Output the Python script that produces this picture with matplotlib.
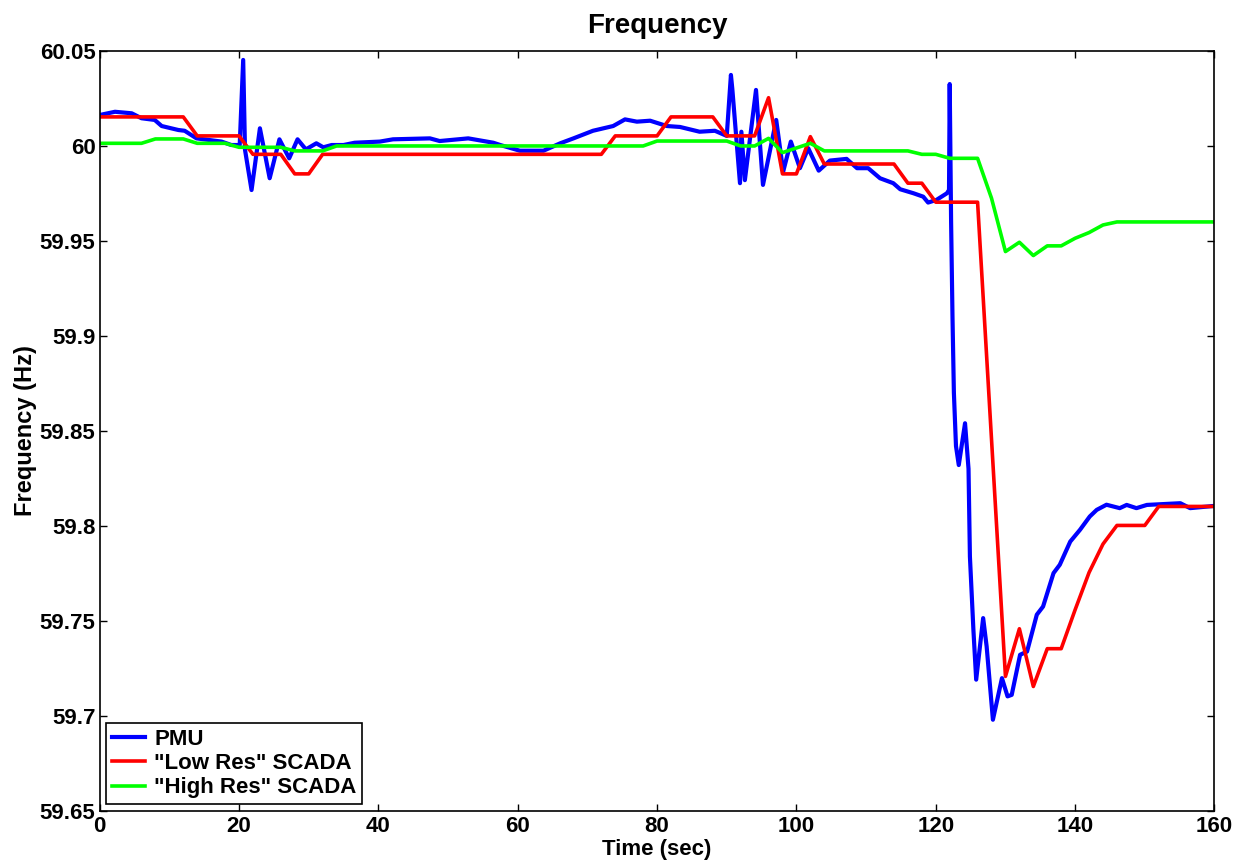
import matplotlib.pyplot as plt
from matplotlib.ticker import MultipleLocator, FuncFormatter

plt.rcParams['font.family'] = ['Liberation Sans', 'DejaVu Sans']
plt.rcParams['font.weight'] = 'bold'

# PMU (high-rate) frequency
pmu_t = [0, 2.2, 4.6, 6.0, 7.9, 8.9, 11.3, 12.2, 13.9, 15.6, 17.5, 18.9, 20.1,
         20.6, 20.86, 21.8, 23.0, 24.4, 25.8, 27.2, 28.4, 29.6, 31.1, 32.1, 33.3,
         35.0, 36.6, 40.2, 42.1, 47.4, 48.8, 52.9, 56.5, 57.5, 60.3, 63.7, 66.1,
         68.0, 70.8, 73.7, 75.4, 77.1, 79.0, 81.4, 83.3, 86.1, 88.3, 90.0,
         90.6, 90.8, 91.9, 92.1, 92.6, 94.2, 95.2, 97.1, 98.1, 99.2, 100.5,
         101.7, 103.2, 104.8, 107.2, 108.7, 110.3, 112.0, 113.9, 114.9, 116.8,
         118.2, 118.9, 120.1, 121.6, 121.9, 122.0, 122.2, 122.4, 122.6, 122.9,
         123.3, 124.2, 124.7, 124.9, 125.4, 125.8, 126.8, 127.3, 128.2, 129.5,
         130.3, 130.9, 132.1, 133.1, 134.5, 135.4, 136.9, 137.8, 139.3, 140.7,
         142.1, 143.1, 144.5, 146.4, 147.4, 148.8, 150.3, 155.1, 156.5, 160]
pmu_f = [60.0163, 60.0180, 60.0172, 60.0146, 60.0137, 60.0105, 60.0084, 60.0080,
         60.0040, 60.0032, 60.0023, 60.0005, 60.0005,
         60.0453, 59.9980, 59.9768, 60.0093, 59.9830, 60.0035, 59.9935, 60.0035,
         59.9982, 60.0014, 59.9993, 60.0005,
         60.0005, 60.0017, 60.0023, 60.0035, 60.0040, 60.0026, 60.0040, 60.0017,
         60.0005, 59.9975, 59.9975, 60.0014,
         60.0040, 60.0080, 60.0105, 60.0140, 60.0128, 60.0133, 60.0105, 60.0100,
         60.0075, 60.0080, 60.0053,
         60.0374, 60.0300, 59.9804, 60.0075, 59.9820, 60.0295, 59.9795, 60.0137,
         59.9865, 60.0023, 59.9883,
         59.9988, 59.9870, 59.9923, 59.9932, 59.9883, 59.9883, 59.9830, 59.9804,
         59.9772, 59.9751,
         59.9733, 59.9702, 59.9716, 59.9751, 59.9768, 60.0326, 59.9600, 59.9100,
         59.8700, 59.8420,
         59.8320, 59.8540, 59.8300, 59.7838, 59.7453, 59.7190, 59.7514, 59.7365,
         59.6979, 59.7198,
         59.7102, 59.7110, 59.7321, 59.7338, 59.7532, 59.7575, 59.7751, 59.7795,
         59.7917, 59.7979,
         59.8049, 59.8084, 59.8111, 59.8093, 59.8110, 59.8093, 59.8110, 59.8119,
         59.8093, 59.8105]

# "Low Res" SCADA
low_t = [0, 12, 14, 20, 22, 26, 28, 30, 32, 72, 74, 80, 82, 88, 90, 94, 96, 98,
         100, 102, 104, 114, 116, 118, 120, 126, 130, 132, 134, 136, 138, 140,
         142, 144, 146, 150, 152, 160]
low_f = [60.0153, 60.0153, 60.0053, 60.0053, 59.9956, 59.9956, 59.9853, 59.9853,
         59.9956, 59.9956, 60.0053, 60.0053, 60.0153, 60.0153, 60.0053, 60.0053,
         60.0254, 59.9853, 59.9853, 60.0049, 59.9905, 59.9905, 59.9804, 59.9804,
         59.9704, 59.9704, 59.7207, 59.7458, 59.7154, 59.7353, 59.7353, 59.7558,
         59.7754, 59.7904, 59.8002, 59.8002, 59.8102, 59.8102]

# "High Res" SCADA
high_t = [0, 6, 8, 12, 14, 18, 20, 26, 28, 32, 34, 78, 80, 90, 92, 94, 96, 98,
          102, 104, 116, 118, 120, 122, 126, 128, 130, 132, 134, 136, 138, 140,
          142, 144, 146, 160]
high_f = [60.0014, 60.0014, 60.0037, 60.0037, 60.0014, 60.0014, 59.9993, 59.9993,
          59.9974, 59.9974, 60.0000, 60.0000, 60.0026, 60.0026, 60.0000, 60.0000,
          60.0040, 59.9965, 60.0014, 59.9974, 59.9974, 59.9956, 59.9956, 59.9935,
          59.9935, 59.9725, 59.9444, 59.9493, 59.9423, 59.9474, 59.9474, 59.9514,
          59.9544, 59.9584, 59.9600, 59.9600]

fig = plt.figure(figsize=(12.38, 8.63), dpi=100)
ax = fig.add_axes([0.0805, 0.0606, 0.9005, 0.8803])

ax.plot(pmu_t, pmu_f, color='#0000ff', lw=3.0, label='PMU')
ax.plot(low_t, low_f, color='#ff0000', lw=2.6, label='"Low Res" SCADA')
ax.plot(high_t, high_f, color='#00ff00', lw=2.6, label='"High Res" SCADA')

ax.set_xlim(0, 160)
ax.set_ylim(59.65, 60.05)
ax.xaxis.set_major_locator(MultipleLocator(20))
ax.yaxis.set_major_locator(MultipleLocator(0.05))
ax.yaxis.set_major_formatter(FuncFormatter(lambda v, p: f'{v:g}'))
ax.tick_params(direction='in', top=True, right=True, length=5, width=1,
               labelsize=16)
ax.tick_params(axis='y', pad=3)
ax.tick_params(axis='x', pad=4)
for s in ax.spines.values():
    s.set_linewidth(1.2)

ax.set_title('Frequency', fontsize=20, fontweight='bold', pad=13)
ax.set_xlabel('Time (sec)', fontsize=16, fontweight='bold', labelpad=1)
ax.set_ylabel('Frequency (Hz)', fontsize=17, fontweight='bold', labelpad=2)

leg = ax.legend(loc='lower left', fontsize=16, frameon=True, fancybox=False,
                edgecolor='black', framealpha=1, handlelength=1.5,
                borderpad=0.25, labelspacing=0.15, handletextpad=0.4,
                borderaxespad=0.3)
leg.get_frame().set_linewidth(1.2)

plt.savefig('out.png', dpi=100)
